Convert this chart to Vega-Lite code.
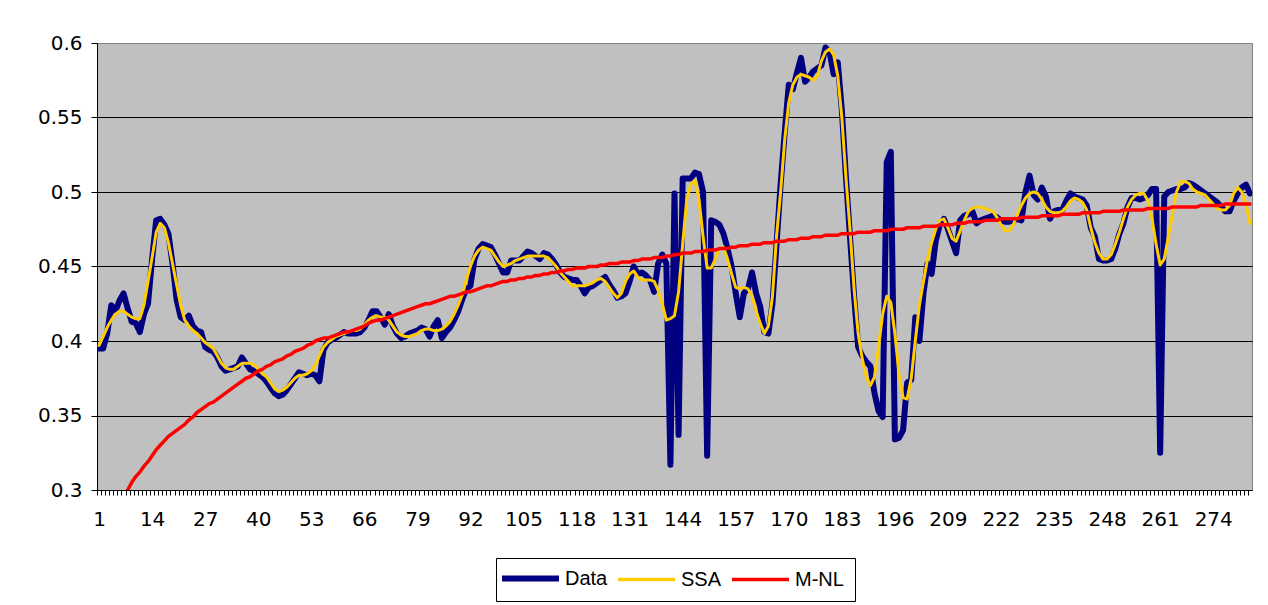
{
  "$schema": "https://vega.github.io/schema/vega-lite/v6.json",
  "width": 1155,
  "height": 447,
  "autosize": "none",
  "padding": {"left": 97, "top": 43, "right": 16, "bottom": 115},
  "background": "white",
  "config": {
    "view": {"fill": "#C0C0C0", "stroke": "#808080", "strokeWidth": 1},
    "font": "DejaVu Sans"
  },
  "data": {
    "values": [
      {"i":1,"Data":0.395,"SSA":0.397},{"i":2,"Data":0.395,"SSA":0.403},{"i":3,"Data":0.405,"SSA":0.409},{"i":4,"Data":0.424,"SSA":0.414},{"i":5,"Data":0.420,"SSA":0.418},
      {"i":6,"Data":0.427,"SSA":0.420},{"i":7,"Data":0.432,"SSA":0.420},{"i":8,"Data":0.422,"SSA":0.418,"M-NL":0.300},{"i":9,"Data":0.413,"SSA":0.416,"M-NL":0.305},{"i":10,"Data":0.412,"SSA":0.415,"M-NL":0.309},
      {"i":11,"Data":0.406,"SSA":0.415,"M-NL":0.312},{"i":12,"Data":0.418,"SSA":0.424,"M-NL":0.316},{"i":13,"Data":0.425,"SSA":0.440,"M-NL":0.319},{"i":14,"Data":0.455,"SSA":0.456,"M-NL":0.323},{"i":15,"Data":0.481,"SSA":0.473,"M-NL":0.327},
      {"i":16,"Data":0.482,"SSA":0.479,"M-NL":0.330},{"i":17,"Data":0.478,"SSA":0.476,"M-NL":0.333},{"i":18,"Data":0.472,"SSA":0.466,"M-NL":0.336},{"i":19,"Data":0.452,"SSA":0.452,"M-NL":0.338},{"i":20,"Data":0.428,"SSA":0.438,"M-NL":0.340},
      {"i":21,"Data":0.416,"SSA":0.424,"M-NL":0.342},{"i":22,"Data":0.414,"SSA":0.414,"M-NL":0.344},{"i":23,"Data":0.417,"SSA":0.410,"M-NL":0.347},{"i":24,"Data":0.410,"SSA":0.407,"M-NL":0.349},{"i":25,"Data":0.407,"SSA":0.405,"M-NL":0.352},
      {"i":26,"Data":0.406,"SSA":0.402,"M-NL":0.354},{"i":27,"Data":0.396,"SSA":0.399,"M-NL":0.356},{"i":28,"Data":0.394,"SSA":0.397,"M-NL":0.358},{"i":29,"Data":0.393,"SSA":0.395,"M-NL":0.359},{"i":30,"Data":0.389,"SSA":0.390,"M-NL":0.361},
      {"i":31,"Data":0.383,"SSA":0.385,"M-NL":0.363},{"i":32,"Data":0.380,"SSA":0.382,"M-NL":0.365},{"i":33,"Data":0.381,"SSA":0.381,"M-NL":0.367},{"i":34,"Data":0.382,"SSA":0.381,"M-NL":0.369},{"i":35,"Data":0.383,"SSA":0.383,"M-NL":0.371},
      {"i":36,"Data":0.389,"SSA":0.385,"M-NL":0.373},{"i":37,"Data":0.385,"SSA":0.385,"M-NL":0.375},{"i":38,"Data":0.381,"SSA":0.385,"M-NL":0.376},{"i":39,"Data":0.380,"SSA":0.384,"M-NL":0.378},{"i":40,"Data":0.378,"SSA":0.381,"M-NL":0.380},
      {"i":41,"Data":0.376,"SSA":0.378,"M-NL":0.381},{"i":42,"Data":0.373,"SSA":0.376,"M-NL":0.383},{"i":43,"Data":0.369,"SSA":0.372,"M-NL":0.384},{"i":44,"Data":0.365,"SSA":0.368,"M-NL":0.386},{"i":45,"Data":0.363,"SSA":0.366,"M-NL":0.387},
      {"i":46,"Data":0.364,"SSA":0.367,"M-NL":0.388},{"i":47,"Data":0.367,"SSA":0.369,"M-NL":0.390},{"i":48,"Data":0.371,"SSA":0.372,"M-NL":0.391},{"i":49,"Data":0.375,"SSA":0.375,"M-NL":0.393},{"i":50,"Data":0.379,"SSA":0.377,"M-NL":0.394},
      {"i":51,"Data":0.378,"SSA":0.377,"M-NL":0.395},{"i":52,"Data":0.377,"SSA":0.378,"M-NL":0.397},{"i":53,"Data":0.378,"SSA":0.380,"M-NL":0.398},{"i":54,"Data":0.377,"SSA":0.384,"M-NL":0.400},{"i":55,"Data":0.373,"SSA":0.390,"M-NL":0.401},
      {"i":56,"Data":0.394,"SSA":0.396,"M-NL":0.402},{"i":57,"Data":0.399,"SSA":0.399,"M-NL":0.402},{"i":58,"Data":0.401,"SSA":0.401,"M-NL":0.403},{"i":59,"Data":0.402,"SSA":0.403,"M-NL":0.404},{"i":60,"Data":0.404,"SSA":0.404,"M-NL":0.405},
      {"i":61,"Data":0.406,"SSA":0.405,"M-NL":0.406},{"i":62,"Data":0.405,"SSA":0.406,"M-NL":0.406},{"i":63,"Data":0.405,"SSA":0.407,"M-NL":0.407},{"i":64,"Data":0.405,"SSA":0.407,"M-NL":0.408},{"i":65,"Data":0.406,"SSA":0.408,"M-NL":0.409},
      {"i":66,"Data":0.409,"SSA":0.411,"M-NL":0.410},{"i":67,"Data":0.414,"SSA":0.414,"M-NL":0.412},{"i":68,"Data":0.420,"SSA":0.416,"M-NL":0.413},{"i":69,"Data":0.420,"SSA":0.417,"M-NL":0.414},{"i":70,"Data":0.416,"SSA":0.416,"M-NL":0.414},
      {"i":71,"Data":0.411,"SSA":0.416,"M-NL":0.415},{"i":72,"Data":0.418,"SSA":0.414,"M-NL":0.416},{"i":73,"Data":0.410,"SSA":0.410,"M-NL":0.417},{"i":74,"Data":0.405,"SSA":0.406,"M-NL":0.418},{"i":75,"Data":0.402,"SSA":0.404,"M-NL":0.419},
      {"i":76,"Data":0.403,"SSA":0.403,"M-NL":0.420},{"i":77,"Data":0.405,"SSA":0.403,"M-NL":0.421},{"i":78,"Data":0.406,"SSA":0.404,"M-NL":0.422},{"i":79,"Data":0.407,"SSA":0.405,"M-NL":0.423},{"i":80,"Data":0.409,"SSA":0.407,"M-NL":0.424},
      {"i":81,"Data":0.408,"SSA":0.408,"M-NL":0.425},{"i":82,"Data":0.403,"SSA":0.408,"M-NL":0.425},{"i":83,"Data":0.410,"SSA":0.407,"M-NL":0.426},{"i":84,"Data":0.414,"SSA":0.407,"M-NL":0.427},{"i":85,"Data":0.402,"SSA":0.408,"M-NL":0.428},
      {"i":86,"Data":0.406,"SSA":0.410,"M-NL":0.429},{"i":87,"Data":0.409,"SSA":0.413,"M-NL":0.430},{"i":88,"Data":0.414,"SSA":0.418,"M-NL":0.430},{"i":89,"Data":0.420,"SSA":0.424,"M-NL":0.431},{"i":90,"Data":0.428,"SSA":0.431,"M-NL":0.432},
      {"i":91,"Data":0.435,"SSA":0.441,"M-NL":0.433},{"i":92,"Data":0.437,"SSA":0.450,"M-NL":0.433},{"i":93,"Data":0.455,"SSA":0.457,"M-NL":0.434},{"i":94,"Data":0.462,"SSA":0.461,"M-NL":0.435},{"i":95,"Data":0.465,"SSA":0.463,"M-NL":0.436},
      {"i":96,"Data":0.464,"SSA":0.462,"M-NL":0.437},{"i":97,"Data":0.463,"SSA":0.461,"M-NL":0.437},{"i":98,"Data":0.458,"SSA":0.457,"M-NL":0.438},{"i":99,"Data":0.452,"SSA":0.453,"M-NL":0.439},{"i":100,"Data":0.446,"SSA":0.450,"M-NL":0.440},
      {"i":101,"Data":0.446,"SSA":0.451,"M-NL":0.440},{"i":102,"Data":0.454,"SSA":0.452,"M-NL":0.441},{"i":103,"Data":0.454,"SSA":0.454,"M-NL":0.441},{"i":104,"Data":0.454,"SSA":0.455,"M-NL":0.442},{"i":105,"Data":0.457,"SSA":0.456,"M-NL":0.442},
      {"i":106,"Data":0.460,"SSA":0.457,"M-NL":0.443},{"i":107,"Data":0.459,"SSA":0.457,"M-NL":0.443},{"i":108,"Data":0.457,"SSA":0.457,"M-NL":0.444},{"i":109,"Data":0.455,"SSA":0.457,"M-NL":0.444},{"i":110,"Data":0.459,"SSA":0.457,"M-NL":0.445},
      {"i":111,"Data":0.458,"SSA":0.456,"M-NL":0.445},{"i":112,"Data":0.455,"SSA":0.453,"M-NL":0.446},{"i":113,"Data":0.451,"SSA":0.450,"M-NL":0.446},{"i":114,"Data":0.446,"SSA":0.446,"M-NL":0.447},{"i":115,"Data":0.443,"SSA":0.443,"M-NL":0.447},
      {"i":116,"Data":0.442,"SSA":0.440,"M-NL":0.448},{"i":117,"Data":0.441,"SSA":0.437,"M-NL":0.448},{"i":118,"Data":0.441,"SSA":0.437,"M-NL":0.449},{"i":119,"Data":0.437,"SSA":0.437,"M-NL":0.449},{"i":120,"Data":0.432,"SSA":0.437,"M-NL":0.449},
      {"i":121,"Data":0.436,"SSA":0.438,"M-NL":0.450},{"i":122,"Data":0.437,"SSA":0.439,"M-NL":0.450},{"i":123,"Data":0.439,"SSA":0.441,"M-NL":0.450},{"i":124,"Data":0.441,"SSA":0.442,"M-NL":0.451},{"i":125,"Data":0.443,"SSA":0.440,"M-NL":0.451},
      {"i":126,"Data":0.438,"SSA":0.436,"M-NL":0.452},{"i":127,"Data":0.434,"SSA":0.432,"M-NL":0.452},{"i":128,"Data":0.429,"SSA":0.429,"M-NL":0.452},{"i":129,"Data":0.430,"SSA":0.432,"M-NL":0.453},{"i":130,"Data":0.432,"SSA":0.440,"M-NL":0.453},
      {"i":131,"Data":0.440,"SSA":0.445,"M-NL":0.453},{"i":132,"Data":0.450,"SSA":0.447,"M-NL":0.454},{"i":133,"Data":0.445,"SSA":0.443,"M-NL":0.454},{"i":134,"Data":0.446,"SSA":0.441,"M-NL":0.455},{"i":135,"Data":0.444,"SSA":0.441,"M-NL":0.455},
      {"i":136,"Data":0.441,"SSA":0.441,"M-NL":0.455},{"i":137,"Data":0.433,"SSA":0.440,"M-NL":0.456},{"i":138,"Data":0.452,"SSA":0.434,"M-NL":0.456},{"i":139,"Data":0.458,"SSA":0.425,"M-NL":0.456},{"i":140,"Data":0.452,"SSA":0.414,"M-NL":0.457},
      {"i":141,"Data":0.317,"SSA":0.415,"M-NL":0.457},{"i":142,"Data":0.499,"SSA":0.417,"M-NL":0.458},{"i":143,"Data":0.337,"SSA":0.433,"M-NL":0.458},{"i":144,"Data":0.509,"SSA":0.465,"M-NL":0.459},{"i":145,"Data":0.509,"SSA":0.495,"M-NL":0.459},
      {"i":146,"Data":0.509,"SSA":0.505,"M-NL":0.459},{"i":147,"Data":0.513,"SSA":0.508,"M-NL":0.460},{"i":148,"Data":0.512,"SSA":0.495,"M-NL":0.460},{"i":149,"Data":0.500,"SSA":0.470,"M-NL":0.460},{"i":150,"Data":0.323,"SSA":0.449,"M-NL":0.461},
      {"i":151,"Data":0.481,"SSA":0.449,"M-NL":0.461},{"i":152,"Data":0.480,"SSA":0.455,"M-NL":0.461},{"i":153,"Data":0.478,"SSA":0.462,"M-NL":0.462},{"i":154,"Data":0.472,"SSA":0.463,"M-NL":0.462},{"i":155,"Data":0.462,"SSA":0.455,"M-NL":0.462},
      {"i":156,"Data":0.450,"SSA":0.445,"M-NL":0.463},{"i":157,"Data":0.432,"SSA":0.436,"M-NL":0.463},{"i":158,"Data":0.416,"SSA":0.435,"M-NL":0.464},{"i":159,"Data":0.432,"SSA":0.436,"M-NL":0.464},{"i":160,"Data":0.435,"SSA":0.435,"M-NL":0.464},
      {"i":161,"Data":0.446,"SSA":0.430,"M-NL":0.465},{"i":162,"Data":0.432,"SSA":0.420,"M-NL":0.465},{"i":163,"Data":0.423,"SSA":0.412,"M-NL":0.465},{"i":164,"Data":0.406,"SSA":0.405,"M-NL":0.466},{"i":165,"Data":0.405,"SSA":0.410,"M-NL":0.466},
      {"i":166,"Data":0.425,"SSA":0.430,"M-NL":0.466},{"i":167,"Data":0.465,"SSA":0.470,"M-NL":0.467},{"i":168,"Data":0.505,"SSA":0.500,"M-NL":0.467},{"i":169,"Data":0.540,"SSA":0.535,"M-NL":0.467},{"i":170,"Data":0.572,"SSA":0.560,"M-NL":0.468},
      {"i":171,"Data":0.569,"SSA":0.572,"M-NL":0.468},{"i":172,"Data":0.580,"SSA":0.577,"M-NL":0.468},{"i":173,"Data":0.590,"SSA":0.579,"M-NL":0.469},{"i":174,"Data":0.574,"SSA":0.578,"M-NL":0.469},{"i":175,"Data":0.577,"SSA":0.577,"M-NL":0.469},
      {"i":176,"Data":0.581,"SSA":0.575,"M-NL":0.470},{"i":177,"Data":0.583,"SSA":0.578,"M-NL":0.470},{"i":178,"Data":0.585,"SSA":0.588,"M-NL":0.470},{"i":179,"Data":0.597,"SSA":0.594,"M-NL":0.471},{"i":180,"Data":0.594,"SSA":0.596,"M-NL":0.471},
      {"i":181,"Data":0.579,"SSA":0.592,"M-NL":0.471},{"i":182,"Data":0.587,"SSA":0.578,"M-NL":0.471},{"i":183,"Data":0.555,"SSA":0.550,"M-NL":0.472},{"i":184,"Data":0.510,"SSA":0.510,"M-NL":0.472},{"i":185,"Data":0.470,"SSA":0.475,"M-NL":0.472},
      {"i":186,"Data":0.430,"SSA":0.435,"M-NL":0.472},{"i":187,"Data":0.396,"SSA":0.405,"M-NL":0.473},{"i":188,"Data":0.390,"SSA":0.388,"M-NL":0.473},{"i":189,"Data":0.386,"SSA":0.376,"M-NL":0.473},{"i":190,"Data":0.383,"SSA":0.370,"M-NL":0.473},
      {"i":191,"Data":0.365,"SSA":0.376,"M-NL":0.474},{"i":192,"Data":0.353,"SSA":0.396,"M-NL":0.474},{"i":193,"Data":0.349,"SSA":0.418,"M-NL":0.474},{"i":194,"Data":0.520,"SSA":0.430,"M-NL":0.474},{"i":195,"Data":0.527,"SSA":0.426,"M-NL":0.475},
      {"i":196,"Data":0.334,"SSA":0.405,"M-NL":0.475},{"i":197,"Data":0.335,"SSA":0.378,"M-NL":0.475},{"i":198,"Data":0.340,"SSA":0.362,"M-NL":0.475},{"i":199,"Data":0.372,"SSA":0.361,"M-NL":0.476},{"i":200,"Data":0.374,"SSA":0.375,"M-NL":0.476},
      {"i":201,"Data":0.416,"SSA":0.400,"M-NL":0.476},{"i":202,"Data":0.400,"SSA":0.424,"M-NL":0.476},{"i":203,"Data":0.432,"SSA":0.440,"M-NL":0.477},{"i":204,"Data":0.452,"SSA":0.455,"M-NL":0.477},{"i":205,"Data":0.445,"SSA":0.466,"M-NL":0.477},
      {"i":206,"Data":0.467,"SSA":0.475,"M-NL":0.477},{"i":207,"Data":0.478,"SSA":0.481,"M-NL":0.478},{"i":208,"Data":0.482,"SSA":0.482,"M-NL":0.478},{"i":209,"Data":0.475,"SSA":0.476,"M-NL":0.478},{"i":210,"Data":0.467,"SSA":0.469,"M-NL":0.478},
      {"i":211,"Data":0.459,"SSA":0.467,"M-NL":0.479},{"i":212,"Data":0.481,"SSA":0.474,"M-NL":0.479},{"i":213,"Data":0.484,"SSA":0.481,"M-NL":0.479},{"i":214,"Data":0.485,"SSA":0.487,"M-NL":0.480},{"i":215,"Data":0.487,"SSA":0.489,"M-NL":0.480},
      {"i":216,"Data":0.479,"SSA":0.490,"M-NL":0.480},{"i":217,"Data":0.481,"SSA":0.490,"M-NL":0.480},{"i":218,"Data":0.482,"SSA":0.489,"M-NL":0.481},{"i":219,"Data":0.483,"SSA":0.488,"M-NL":0.481},{"i":220,"Data":0.484,"SSA":0.487,"M-NL":0.481},
      {"i":221,"Data":0.483,"SSA":0.483,"M-NL":0.481},{"i":222,"Data":0.481,"SSA":0.478,"M-NL":0.482},{"i":223,"Data":0.480,"SSA":0.474,"M-NL":0.482},{"i":224,"Data":0.480,"SSA":0.474,"M-NL":0.482},{"i":225,"Data":0.481,"SSA":0.478,"M-NL":0.482},
      {"i":226,"Data":0.482,"SSA":0.485,"M-NL":0.482},{"i":227,"Data":0.481,"SSA":0.491,"M-NL":0.483},{"i":228,"Data":0.500,"SSA":0.496,"M-NL":0.483},{"i":229,"Data":0.511,"SSA":0.499,"M-NL":0.483},{"i":230,"Data":0.498,"SSA":0.500,"M-NL":0.483},
      {"i":231,"Data":0.495,"SSA":0.499,"M-NL":0.483},{"i":232,"Data":0.503,"SSA":0.495,"M-NL":0.484},{"i":233,"Data":0.497,"SSA":0.490,"M-NL":0.484},{"i":234,"Data":0.482,"SSA":0.487,"M-NL":0.484},{"i":235,"Data":0.487,"SSA":0.486,"M-NL":0.484},
      {"i":236,"Data":0.488,"SSA":0.486,"M-NL":0.484},{"i":237,"Data":0.488,"SSA":0.487,"M-NL":0.485},{"i":238,"Data":0.494,"SSA":0.490,"M-NL":0.485},{"i":239,"Data":0.499,"SSA":0.494,"M-NL":0.485},{"i":240,"Data":0.497,"SSA":0.496,"M-NL":0.485},
      {"i":241,"Data":0.496,"SSA":0.495,"M-NL":0.485},{"i":242,"Data":0.495,"SSA":0.493,"M-NL":0.486},{"i":243,"Data":0.491,"SSA":0.488,"M-NL":0.486},{"i":244,"Data":0.476,"SSA":0.476,"M-NL":0.486},{"i":245,"Data":0.470,"SSA":0.466,"M-NL":0.486},
      {"i":246,"Data":0.455,"SSA":0.459,"M-NL":0.486},{"i":247,"Data":0.454,"SSA":0.455,"M-NL":0.487},{"i":248,"Data":0.454,"SSA":0.455,"M-NL":0.487},{"i":249,"Data":0.455,"SSA":0.458,"M-NL":0.487},{"i":250,"Data":0.462,"SSA":0.465,"M-NL":0.487},
      {"i":251,"Data":0.472,"SSA":0.473,"M-NL":0.487},{"i":252,"Data":0.479,"SSA":0.482,"M-NL":0.488},{"i":253,"Data":0.490,"SSA":0.490,"M-NL":0.488},{"i":254,"Data":0.496,"SSA":0.495,"M-NL":0.488},{"i":255,"Data":0.496,"SSA":0.498,"M-NL":0.488},
      {"i":256,"Data":0.495,"SSA":0.499,"M-NL":0.488},{"i":257,"Data":0.496,"SSA":0.499,"M-NL":0.488},{"i":258,"Data":0.498,"SSA":0.494,"M-NL":0.489},{"i":259,"Data":0.502,"SSA":0.482,"M-NL":0.489},{"i":260,"Data":0.502,"SSA":0.465,"M-NL":0.489},
      {"i":261,"Data":0.325,"SSA":0.451,"M-NL":0.489},{"i":262,"Data":0.497,"SSA":0.455,"M-NL":0.489},{"i":263,"Data":0.500,"SSA":0.470,"M-NL":0.489},{"i":264,"Data":0.501,"SSA":0.485,"M-NL":0.490},{"i":265,"Data":0.502,"SSA":0.500,"M-NL":0.490},
      {"i":266,"Data":0.502,"SSA":0.507,"M-NL":0.490},{"i":267,"Data":0.503,"SSA":0.507,"M-NL":0.490},{"i":268,"Data":0.506,"SSA":0.506,"M-NL":0.490},{"i":269,"Data":0.505,"SSA":0.502,"M-NL":0.490},{"i":270,"Data":0.503,"SSA":0.500,"M-NL":0.490},
      {"i":271,"Data":0.501,"SSA":0.499,"M-NL":0.491},{"i":272,"Data":0.499,"SSA":0.498,"M-NL":0.491},{"i":273,"Data":0.497,"SSA":0.495,"M-NL":0.491},{"i":274,"Data":0.495,"SSA":0.492,"M-NL":0.491},{"i":275,"Data":0.493,"SSA":0.489,"M-NL":0.491},
      {"i":276,"Data":0.490,"SSA":0.488,"M-NL":0.491},{"i":277,"Data":0.487,"SSA":0.488,"M-NL":0.492},{"i":278,"Data":0.487,"SSA":0.491,"M-NL":0.492},{"i":279,"Data":0.494,"SSA":0.499,"M-NL":0.492},{"i":280,"Data":0.499,"SSA":0.503,"M-NL":0.492},
      {"i":281,"Data":0.503,"SSA":0.500,"M-NL":0.492},{"i":282,"Data":0.505,"SSA":0.492,"M-NL":0.492},{"i":283,"Data":0.499,"SSA":0.479,"M-NL":0.492}
    ]
  },
  "transform": [
    {"fold": ["Data", "SSA", "M-NL"], "as": ["series", "value"]},
    {"filter": "isValid(datum.value)"}
  ],
  "encoding": {
    "x": {
      "field": "i",
      "type": "quantitative",
      "scale": {"domain": [0.5, 283.5], "nice": false, "zero": false},
      "axis": {
        "title": null,
        "tickCount": 283,
        "tickOffset": -2.04,
        "labelOffset": 2.04,
        "labelExpr": "datum.value % 13 === 1 ? datum.label : ''",
        "labelOverlap": false,
        "labelFlush": false,
        "labelBound": false,
        "labelAngle": 0,
        "grid": false,
        "domainColor": "#000000",
        "tickColor": "#000000",
        "tickSize": 5,
        "labelPadding": 14,
        "labelFont": "DejaVu Sans",
        "labelFontSize": 20,
        "labelColor": "#000000"
      }
    },
    "y": {
      "field": "value",
      "type": "quantitative",
      "scale": {"domain": [0.3, 0.6], "nice": false, "zero": false},
      "axis": {
        "title": null,
        "values": [0.3, 0.35, 0.4, 0.45, 0.5, 0.55, 0.6],
        "format": "~g",
        "grid": true,
        "gridColor": {"condition": {"test": "datum.value >= 0.6", "value": "#808080"}, "value": "#000000"},
        "gridWidth": 1,
        "domainColor": "#000000",
        "tickColor": "#000000",
        "tickSize": 6,
        "labelPadding": 9,
        "labelFont": "DejaVu Sans",
        "labelFontSize": 20,
        "labelColor": "#000000"
      }
    },
    "color": {
      "field": "series",
      "type": "nominal",
      "scale": {"domain": ["Data", "SSA", "M-NL"], "range": ["#000080", "#FFCC00", "#FF0000"]},
      "legend": {
        "orient": "none",
        "legendX": 399,
        "legendY": 515,
        "direction": "horizontal",
        "title": null,
        "symbolType": "stroke",
        "symbolSize": 3249,
        "symbolStrokeWidth": 3,
        "symbolOffset": 14,
        "labelFont": "Liberation Sans",
        "labelFontSize": 20,
        "labelColor": "#000000",
        "labelOffset": 24.5,
        "columnPadding": 3,
        "strokeColor": "#000000",
        "fillColor": "#FFFFFF",
        "padding": 10.5,
        "encode": {
          "symbols": {"update": {"strokeWidth": {"signal": "datum.value === 'Data' ? 6 : 3.5"}}}
        }
      }
    }
  },
  "layer": [
    {
      "transform": [{"filter": "datum.series === 'Data'"}],
      "mark": {"type": "line", "strokeWidth": 6, "strokeJoin": "round", "strokeCap": "round", "clip": true}
    },
    {
      "transform": [{"filter": "datum.series === 'SSA'"}],
      "mark": {"type": "line", "strokeWidth": 3, "strokeJoin": "round", "strokeCap": "round", "clip": true}
    },
    {
      "transform": [{"filter": "datum.series === 'M-NL'"}],
      "mark": {"type": "line", "strokeWidth": 3.5, "strokeJoin": "round", "strokeCap": "round", "clip": true}
    }
  ]
}
